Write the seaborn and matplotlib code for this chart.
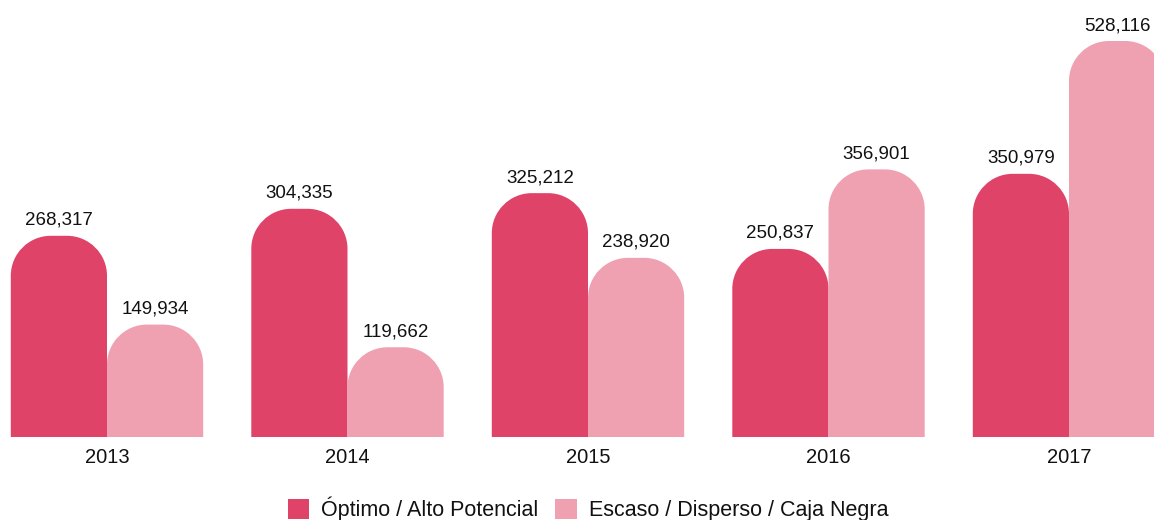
import matplotlib
matplotlib.use("Agg")
import matplotlib.pyplot as plt
import seaborn as sns
import pandas as pd
from matplotlib.path import Path
from matplotlib.patches import PathPatch, Patch

years = ["2013", "2014", "2015", "2016", "2017"]
series_names = ["Óptimo / Alto Potencial", "Escaso / Disperso / Caja Negra"]
optimo = [268317, 304335, 325212, 250837, 350979]
escaso = [149934, 119662, 238920, 356901, 528116]
colors = ["#E04368", "#EFA1B2"]

df = pd.DataFrame({
    "year": years * 2,
    "series": [series_names[0]] * len(years) + [series_names[1]] * len(years),
    "value": optimo + escaso,
})

sns.set_theme(style="white")
plt.rcParams["font.family"] = ["Liberation Sans", "DejaVu Sans"]

W, H, DPI = 1154, 520, 100
fig = plt.figure(figsize=(W / DPI, H / DPI), dpi=DPI)
ax_bottom_px = 437
ax = fig.add_axes([0, (H - ax_bottom_px) / H, 1, ax_bottom_px / H])

sns.barplot(data=df, x="year", y="value", hue="series", palette=colors,
            saturation=1, width=0.8, gap=0, legend=False, ax=ax)

group_px = 240.5
first_px = 107
ax.set_xlim(-first_px / group_px, (W - first_px) / group_px)
ymax = 528116 * ax_bottom_px / (ax_bottom_px - 41)
ax.set_ylim(0, ymax)

# round the tops
r_px = 40
rx = r_px / group_px
ry = r_px * ymax / ax_bottom_px
k = 0.5523
rects = list(ax.patches)
for p in rects:
    x0 = p.get_x()
    w = p.get_width()
    h = p.get_height()
    x1 = x0 + w
    fc = p.get_facecolor()
    verts = [
        (x0, 0), (x0, h - ry),
        (x0, h - ry + k * ry), (x0 + rx - k * rx, h), (x0 + rx, h),
        (x1 - rx, h),
        (x1 - rx + k * rx, h), (x1, h - ry + k * ry), (x1, h - ry),
        (x1, 0), (x0, 0),
    ]
    codes = [Path.MOVETO, Path.LINETO,
             Path.CURVE4, Path.CURVE4, Path.CURVE4,
             Path.LINETO,
             Path.CURVE4, Path.CURVE4, Path.CURVE4,
             Path.LINETO, Path.CLOSEPOLY]
    p.set_visible(False)
    ax.add_patch(PathPatch(Path(verts, codes), facecolor=fc, edgecolor="none"))
    ax.annotate(f"{int(round(h)):,}", (x0 + w / 2, h), xytext=(0, 5),
                textcoords="offset points", ha="center", va="bottom",
                fontsize=13.5, color="#111111")

for s in ax.spines.values():
    s.set_visible(False)
ax.set_yticks([])
ax.set_xlabel("")
ax.set_ylabel("")
ax.tick_params(axis="x", length=0, pad=8, labelsize=14.5, labelcolor="#111111")

handles = [Patch(facecolor=c, edgecolor="none") for c in colors]
fig.legend(handles, series_names, loc="center", bbox_to_anchor=(588 / W, 0.021),
           ncol=2, frameon=False, fontsize=15.5, handlelength=1.0, handleheight=1.0,
           handletextpad=0.55, columnspacing=0.8, labelcolor="#111111")

fig.savefig("out.png", dpi=DPI)
